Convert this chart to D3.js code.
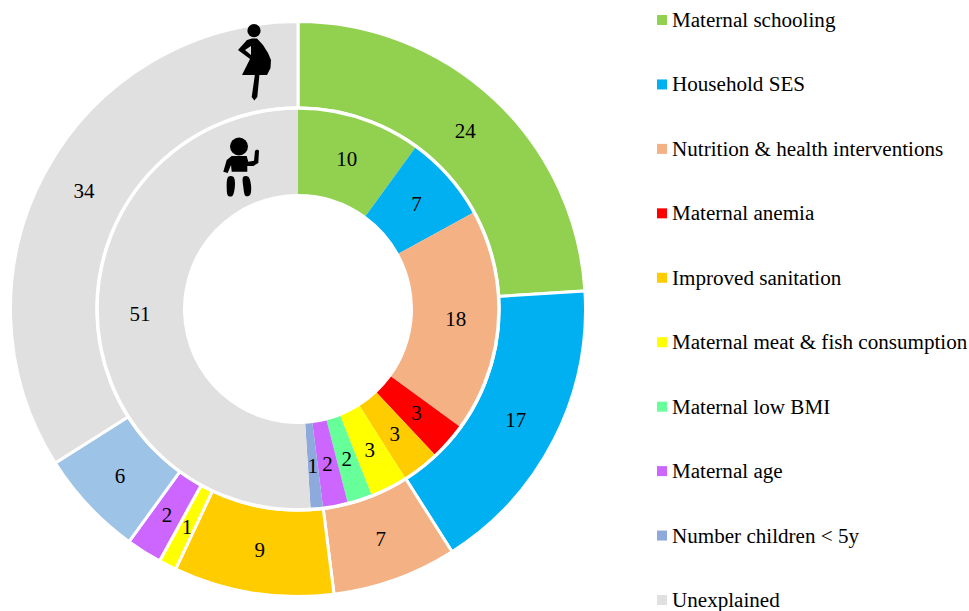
<!DOCTYPE html>
<html>
<head>
<meta charset="utf-8">
<style>
html,body{margin:0;padding:0;background:#fff;overflow:hidden}
svg{display:block}
text{font-family:"Liberation Serif","Times New Roman",serif;fill:#000}
</style>
<script src="https://cdnjs.cloudflare.com/ajax/libs/d3/7.8.5/d3.min.js"></script>
</head>
<body>
<svg id="chart" width="969" height="611"></svg>
<script>
const legendLabels = ["Maternal schooling","Household SES","Nutrition & health interventions","Maternal anemia","Improved sanitation","Maternal meat & fish consumption","Maternal low BMI","Maternal age","Number children < 5y","Unexplained"];
const legendColors = ["#92D050","#00B0F0","#F4B183","#FF0000","#FFCC00","#FFFF00","#66FF99","#CC66FF","#8EA9DB","#E0E0E0"];
const outerValues = [24,17,7,9,1,2,6,34];
const outerColors = ["#92D050","#00B0F0","#F4B183","#FFCC00","#FFFF00","#CC66FF","#9DC3E6","#E0E0E0"];
const innerValues = [10,7,18,3,3,3,2,2,1,51];
const innerColors = legendColors;

const svg = d3.select("#chart");
const cx = 298, cy = 309;
const rOuter = 287.5, rMid = 201, rHole = 115;
const g = svg.append("g").attr("transform", `translate(${cx},${cy})`);
const pie = d3.pie().sort(null).value(d => d);

const outerArc = d3.arc().innerRadius(rMid).outerRadius(rOuter);
const outer = pie(outerValues);
g.selectAll("path.outer").data(outer).join("path")
  .attr("class","outer").attr("d", outerArc)
  .attr("fill",(d,i)=>outerColors[i]).attr("stroke","#fff").attr("stroke-width",3);

const innerArc = d3.arc().innerRadius(rHole).outerRadius(rMid);
const inner = pie(innerValues);
g.selectAll("path.inner").data(inner).join("path")
  .attr("class","inner").attr("d", innerArc)
  .attr("fill",(d,i)=>innerColors[i]);

g.append("circle").attr("r", rMid).attr("fill","none").attr("stroke","#fff").attr("stroke-width",3.5);

const addLabels = (arcs, arc) => g.selectAll(null).data(arcs).join("text")
  .attr("transform", d => `translate(${arc.centroid(d)})`)
  .attr("text-anchor","middle").attr("dy","0.33em")
  .attr("font-size",21).text(d => d.value);
addLabels(outer, outerArc);
addLabels(inner, innerArc);

// pictograms
const poly = d3.line().curve(d3.curveLinearClosed);
const smooth = d3.line().curve(d3.curveCatmullRomClosed);
const icons = svg.append("g").attr("fill","#000");
// pregnant woman
icons.append("circle").attr("cx",254).attr("cy",30.7).attr("r",6.6);
icons.append("path").attr("fill-rule","evenodd").attr("d",
  poly([[247,40],[252,38.5],[257,38.5],[263,45],[268,53],[271,60],[270.5,68],[267,75],[242,75],[250,59],[238,50]]) +
  poly([[245,50],[251,46],[251,55]]));
icons.append("path").attr("d", poly([[255,74],[259.5,74],[257.3,97],[254.3,100.5],[251.7,97]]));
// child
icons.append("circle").attr("cx",239).attr("cy",146.5).attr("r",9);
icons.append("path").attr("d", poly([[231.7,156],[246.7,156],[248.3,161.7],[254,160.7],[255,150.7],[257,149.5],[259,150.5],[258.3,163],[253.3,166],[247.3,166],[247.3,171.7],[231.7,171.7],[231,165],[227.7,173],[223.3,171.7],[226.7,160]]));
icons.append("path").attr("d", smooth([[228.3,176.7],[233.3,176.7],[235,183],[232.3,196],[228.3,196],[226.7,186.7]]));
icons.append("path").attr("d", smooth([[243.3,176.7],[248.3,176.7],[251,185],[250,195],[245.7,196],[243.3,186.7]]));

// legend
const legendY = d3.scalePoint().domain(legendLabels).range([20,600]);
const legend = svg.append("g").selectAll("g").data(legendLabels).join("g")
  .attr("transform", d => `translate(657,${legendY(d)})`);
legend.append("rect").attr("x",0).attr("y",-5).attr("width",10).attr("height",10)
  .attr("fill",(d,i)=>legendColors[i]);
legend.append("text").attr("x",15).attr("dy","0.33em").attr("font-size",21.1).text(d => d);
</script>
</body>
</html>
